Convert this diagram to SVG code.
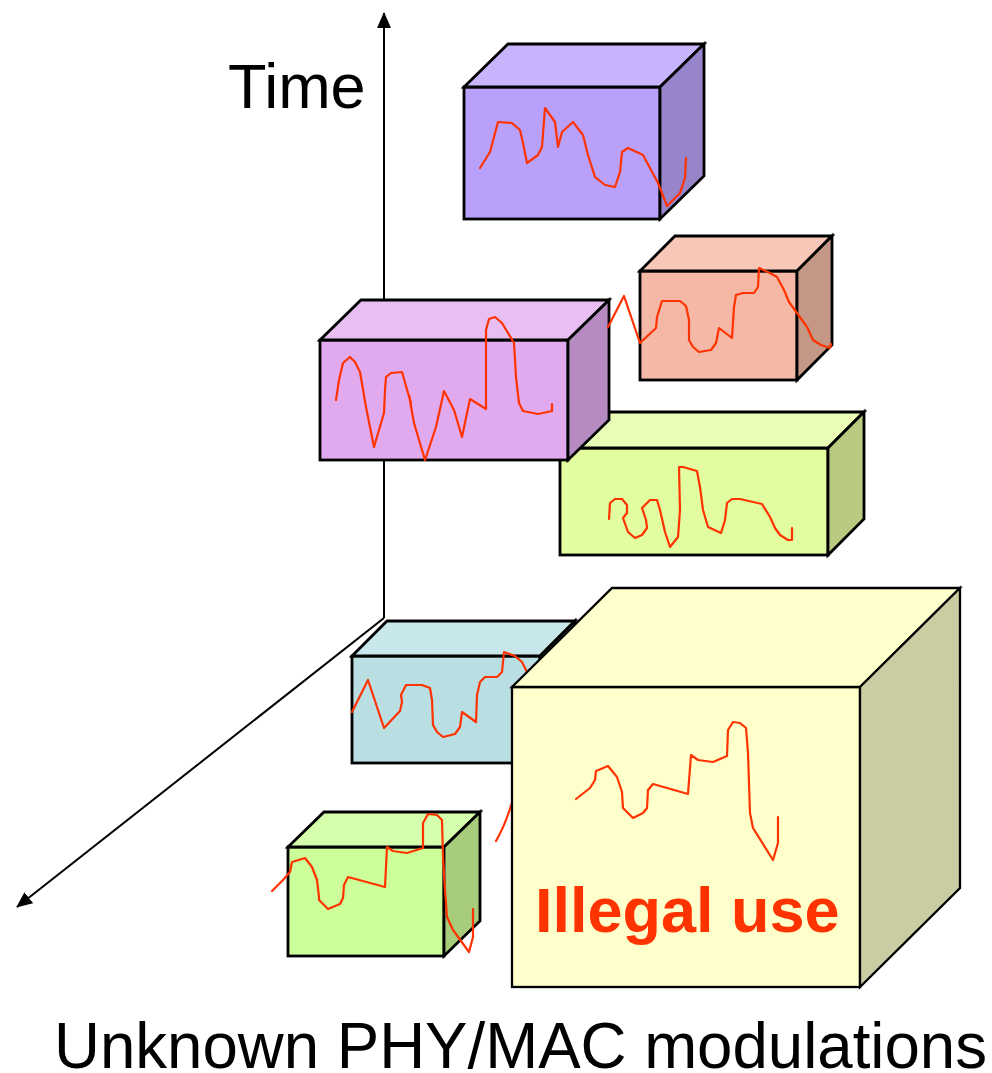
<svg xmlns="http://www.w3.org/2000/svg" width="992" height="1073" viewBox="0 0 992 1073">
  <defs>
    <style>
      .face { stroke: #000; stroke-width: 2.8; stroke-linejoin: miter; }
      .wave { fill: none; stroke: #FF3300; stroke-width: 2.2; stroke-linejoin: round; stroke-linecap: round; }
      .axis { fill: none; stroke: #000; stroke-width: 2; }
      .label { font-family: "Liberation Sans", Arial, sans-serif; fill: #000; }
    </style>
    <marker id="arrow" viewBox="0 0 16 14" refX="15" refY="7" markerWidth="16" markerHeight="14" markerUnits="userSpaceOnUse" orient="auto">
      <path d="M0,0 L16,7 L0,14 z" fill="#000"/>
    </marker>
  </defs>

  <rect width="992" height="1073" fill="#fff"/>

  <!-- axes -->
  <g id="connectors">
    <line class="axis" x1="384" y1="618" x2="384" y2="13" marker-end="url(#arrow)"/>
    <line class="axis" x1="384" y1="618" x2="17" y2="907" marker-end="url(#arrow)"/>
  </g>

  <text class="label" x="228" y="108" font-size="63">Time</text>

  <!-- purple block -->
  <g id="block-purple">
    <rect class="face" x="464" y="87" width="196" height="132" fill="#B9A1FB"/>
    <polygon class="face" points="464,87 508,44 704,44 660,87" fill="#C8B4FD"/>
    <polygon class="face" points="660,87 704,44 704,176 660,219" fill="#9784CA"/>
    <polyline class="wave" points="480,168 490,152 498,122 512,123 520,130 523,143 527,163 538,155 542,147 545,108 555,122 558,147 562,132 573,122 583,135 588,155 595,177 605,185 615,187 620,172 622,152 628,148 643,155 658,183 667,206 680,193 685,178 686,158"/>
  </g>

  <!-- lime block -->
  <g id="block-lime">
    <rect class="face" x="560" y="448" width="268" height="107" fill="#E2FCA0"/>
    <polygon class="face" points="560,448 596,412 864,412 828,448" fill="#E9FDB6"/>
    <polygon class="face" points="828,448 864,412 864,519 828,555" fill="#B8CA80"/>
    <polyline class="wave" points="609,519 610,503 615,499 622,499 627,505 627,513 623,518 628,532 635,538 642,535 647,528 646,520 642,508 650,500 657,500 660,510 665,532 670,547 678,537 680,510 679,467 683,467 697,471 700,487 703,510 708,527 721,533 725,520 727,503 732,499 740,499 762,504 770,517 775,528 780,535 788,540 792,540 792,528"/>
  </g>

  <!-- orange block -->
  <g id="block-orange">
    <rect class="face" x="640" y="271" width="157" height="109" fill="#F6B8A6"/>
    <polygon class="face" points="640,271 675,236 832,236 797,271" fill="#F7C8B8"/>
    <polygon class="face" points="797,271 832,236 832,345 797,380" fill="#C49786"/>
  </g>

  <!-- pink block -->
  <g id="block-pink">
    <rect class="face" x="320" y="340" width="248" height="120" fill="#E1AAEF"/>
    <polygon class="face" points="320,340 361,300 609,300 568,340" fill="#E8BEF3"/>
    <polygon class="face" points="568,340 609,300 609,420 568,460" fill="#B68BC1"/>
    <polyline class="wave" points="336,400 339,380 343,363 350,357 355,362 360,372 366,407 374,447 379,430 384,413 385,390 386,377 391,373 402,372 408,393 411,403 409,395 414,423 425,460 436,427 444,391 454,410 462,437 470,399 486,409 486,330 489,319 495,317 502,323 514,343 516,377 519,403 523,411 538,414 552,411 552,404"/>
  </g>

  <!-- signal running across the orange block -->
  <polyline class="wave" points="608,327 624,296 640,343 656,328 657,317 662,301 680,301 686,306 689,320 689,340 693,347 699,352 711,350 716,343 719,328 732,338 734,307 736,295 743,293 754,293 758,287 759,268 768,272 777,277 784,290 789,302 797,313 807,327 813,340 821,345 830,348 831,344"/>

  <!-- blue block -->
  <g id="block-blue">
    <rect class="face" x="352" y="656" width="188" height="107" fill="#BADFE3"/>
    <polygon class="face" points="352,656 387,621 575,621 540,656" fill="#C8E7EA"/>
    <polygon class="face" points="540,656 575,621 575,728 540,763" fill="#95B3B6"/>
    <polyline class="wave" points="352,712 368,680 384,728 400,711 402,702 401,695 406,685 422,685 430,688 432,700 433,725 437,732 443,737 455,734 460,727 462,712 476,722 477,695 480,682 485,677 497,677 502,672 504,652 515,656 522,662 527,672 532,690"/>
  </g>

  <!-- small green block -->
  <g id="block-green">
    <rect class="face" x="288" y="847" width="156" height="109" fill="#CCFF99"/>
    <polygon class="face" points="288,847 324,812 480,812 444,847" fill="#D6FFAD"/>
    <polygon class="face" points="444,847 480,812 480,921 444,956" fill="#A6CC7C"/>
    <polyline class="wave" points="272,891 283,880 290,872 292,862 305,858 312,867 317,880 319,897 319,900 328,909 340,904 343,898 344,885 348,877 385,887 387,847 393,851 407,853 423,848 423,823 428,814 437,815 442,820 443,857 445,890 447,917 453,930 469,952 473,937 473,909"/>
  </g>

  <!-- signal emerging from behind the large block -->
  <path class="wave" d="M496,841 Q506,824 514,796"/>

  <!-- large yellow block -->
  <g id="block-illegal">
    <rect class="face" x="512" y="687" width="348" height="300" fill="#FFFFCC" style="stroke-width:2.3"/>
    <polygon class="face" points="512,687 612,588 960,588 860,687" fill="#FFFFCC" style="stroke-width:2.3"/>
    <polygon class="face" points="860,687 960,588 960,888 860,987" fill="#CCCCA3" style="stroke-width:2.3"/>
    <polyline class="wave" points="576,799 590,788 595,780 596,771 608,766 617,777 622,792 623,808 633,818 643,813 647,808 648,790 653,784 688,794 691,755 698,760 713,762 727,756 728,730 733,722 740,723 746,728 748,753 750,813 753,828 773,860 778,843 778,817"/>
    <text x="535" y="932" font-family="Liberation Sans, Arial, sans-serif" font-weight="bold" font-size="63" fill="#FF3300">Illegal use</text>
  </g>

  <text class="label" x="54" y="1068" font-size="65" textLength="933" lengthAdjust="spacingAndGlyphs">Unknown PHY/MAC modulations</text>
</svg>
